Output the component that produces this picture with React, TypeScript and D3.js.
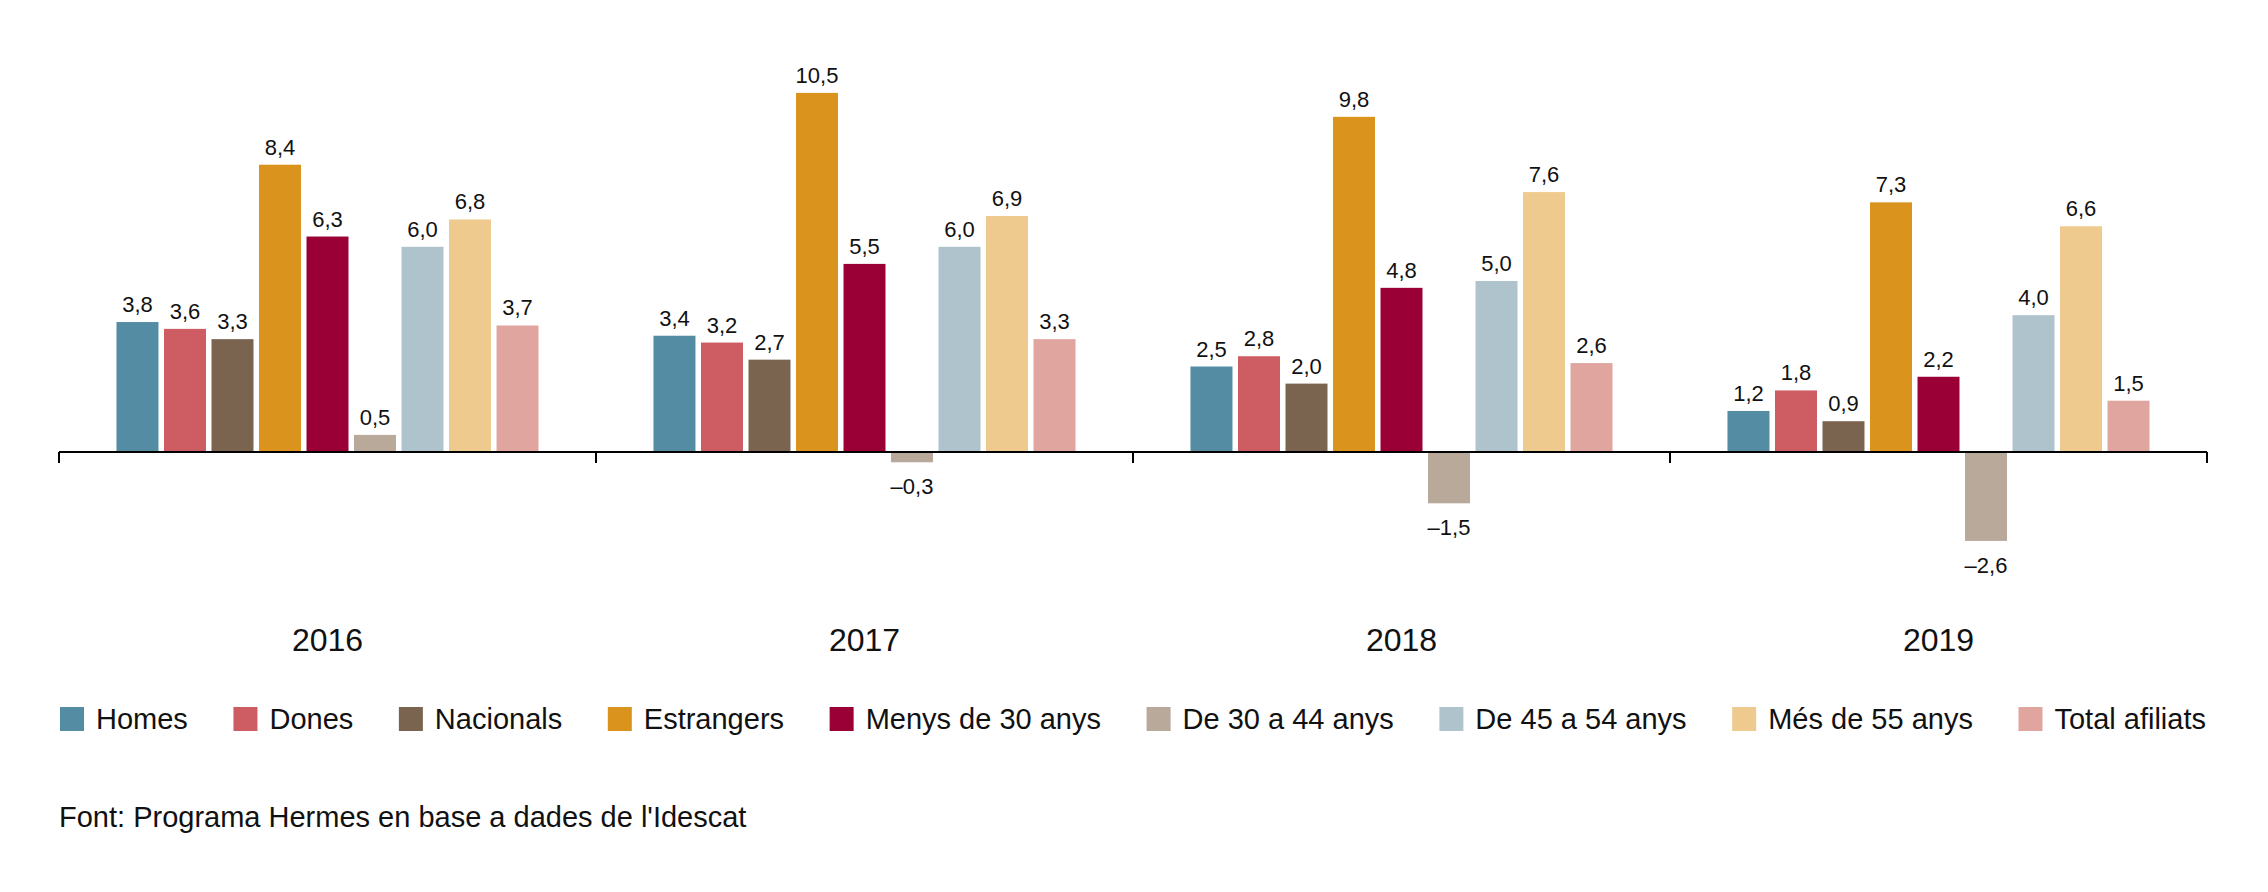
import { useEffect, useRef } from "react";
import * as d3 from "d3";

const years = ["2016", "2017", "2018", "2019"];

const seriesNames = [
  "Homes",
  "Dones",
  "Nacionals",
  "Estrangers",
  "Menys de 30 anys",
  "De 30 a 44 anys",
  "De 45 a 54 anys",
  "Més de 55 anys",
  "Total afiliats",
];

const seriesColors = [
  "#548da3",
  "#cd5c63",
  "#7a6450",
  "#da931c",
  "#9a0036",
  "#b8a99b",
  "#afc3cc",
  "#efca8f",
  "#e1a59f",
];

// one array per series, values for 2016..2019
const homes = [3.8, 3.4, 2.5, 1.2];
const dones = [3.6, 3.2, 2.8, 1.8];
const nacionals = [3.3, 2.7, 2.0, 0.9];
const estrangers = [8.4, 10.5, 9.8, 7.3];
const menys30 = [6.3, 5.5, 4.8, 2.2];
const de30a44 = [0.5, -0.3, -1.5, -2.6];
const de45a54 = [6.0, 6.0, 5.0, 4.0];
const mes55 = [6.8, 6.9, 7.6, 6.6];
const totalAfiliats = [3.7, 3.3, 2.6, 1.5];

const seriesValues = [homes, dones, nacionals, estrangers, menys30, de30a44, de45a54, mes55, totalAfiliats];

const source = "Font: Programa Hermes en base a dades de l'Idescat";

const FONT = "'Liberation Sans', Arial, Helvetica, sans-serif";

const fmt = (v: number) => (v < 0 ? "\u2013" : "") + Math.abs(v).toFixed(1).replace(".", ",");

export default function App() {
  const svgRef = useRef<SVGSVGElement>(null);

  useEffect(() => {
    document.body.style.margin = "0";
    if (!svgRef.current) return;

    const width = 2268;
    const height = 892;
    const left = 59;
    const right = 2207;

    d3.select(svgRef.current).selectAll("*").remove();

    const svg = d3
      .select(svgRef.current)
      .attr("width", width)
      .attr("height", height)
      .attr("viewBox", `0 0 ${width} ${height}`)
      .style("display", "block")
      .style("background", "#fff")
      .style("font-family", FONT);

    const x0 = d3.scaleBand<string>().domain(years).range([left, right]);

    const x1 = d3
      .scaleBand<number>()
      .domain(d3.range(seriesNames.length))
      .range([0, x0.bandwidth()])
      .paddingInner(0.116)
      .paddingOuter(1.21);

    // 0 at y=452, ~34.2 px per unit
    const y = d3.scaleLinear().domain([-3, 11]).range([554.6, 75.8]);

    const cells = years.flatMap((yr, i) =>
      seriesValues.map((vals, s) => ({ yr, s, v: vals[i] }))
    );

    const g = svg.append("g");

    g.selectAll("rect.bar")
      .data(cells)
      .join("rect")
      .attr("class", "bar")
      .attr("x", (d) => x0(d.yr)! + x1(d.s)!)
      .attr("width", x1.bandwidth())
      .attr("y", (d) => y(Math.max(0, d.v)))
      .attr("height", (d) => Math.abs(y(d.v) - y(0)))
      .attr("fill", (d) => seriesColors[d.s]);

    g.selectAll("text.val")
      .data(cells)
      .join("text")
      .attr("class", "val")
      .attr("x", (d) => x0(d.yr)! + x1(d.s)! + x1.bandwidth() / 2)
      .attr("y", (d) => (d.v >= 0 ? y(d.v) - 10 : y(d.v) + 32))
      .attr("text-anchor", "middle")
      .attr("font-size", 22)
      .attr("fill", "#111")
      .text((d) => fmt(d.v));

    // baseline axis with ticks at the band edges
    const axisY = y(0);
    svg
      .append("line")
      .attr("x1", left)
      .attr("x2", right)
      .attr("y1", axisY)
      .attr("y2", axisY)
      .attr("stroke", "#000")
      .attr("stroke-width", 2);

    const edges = [...years.map((yr) => x0(yr)!), right];
    svg
      .selectAll("line.tick")
      .data(edges)
      .join("line")
      .attr("class", "tick")
      .attr("x1", (d) => d)
      .attr("x2", (d) => d)
      .attr("y1", axisY)
      .attr("y2", axisY + 11)
      .attr("stroke", "#000")
      .attr("stroke-width", 2);

    svg
      .selectAll("text.year")
      .data(years)
      .join("text")
      .attr("class", "year")
      .attr("x", (d) => x0(d)! + x0.bandwidth() / 2)
      .attr("y", 651)
      .attr("text-anchor", "middle")
      .attr("font-size", 32)
      .attr("fill", "#111")
      .text((d) => d);

    // legend, spread between the axis ends
    const legendSize = 29;
    const ctx = document.createElement("canvas").getContext("2d")!;
    ctx.font = `${legendSize}px ${FONT}`;
    const sw = 24;
    const sgap = 12;
    const widths = seriesNames.map((n) => ctx.measureText(n).width);
    const used = d3.sum(widths) + seriesNames.length * (sw + sgap);
    const gap = (right - 2 - left - used) / (seriesNames.length - 1);
    let cx = left + 1;
    const items = seriesNames.map((n, i) => {
      const it = { n, i, x: cx };
      cx += sw + sgap + widths[i] + gap;
      return it;
    });

    const leg = svg
      .append("g")
      .selectAll("g")
      .data(items)
      .join("g")
      .attr("transform", (d) => `translate(${d.x},0)`);

    leg
      .append("rect")
      .attr("y", 707)
      .attr("width", sw)
      .attr("height", sw)
      .attr("fill", (d) => seriesColors[d.i]);

    leg
      .append("text")
      .attr("x", sw + sgap)
      .attr("y", 729)
      .attr("font-size", legendSize)
      .attr("fill", "#111")
      .text((d) => d.n);

    svg
      .append("text")
      .attr("x", left)
      .attr("y", 827)
      .attr("font-size", 29)
      .attr("fill", "#111")
      .text(source);
  }, []);

  return <svg ref={svgRef} />;
}
